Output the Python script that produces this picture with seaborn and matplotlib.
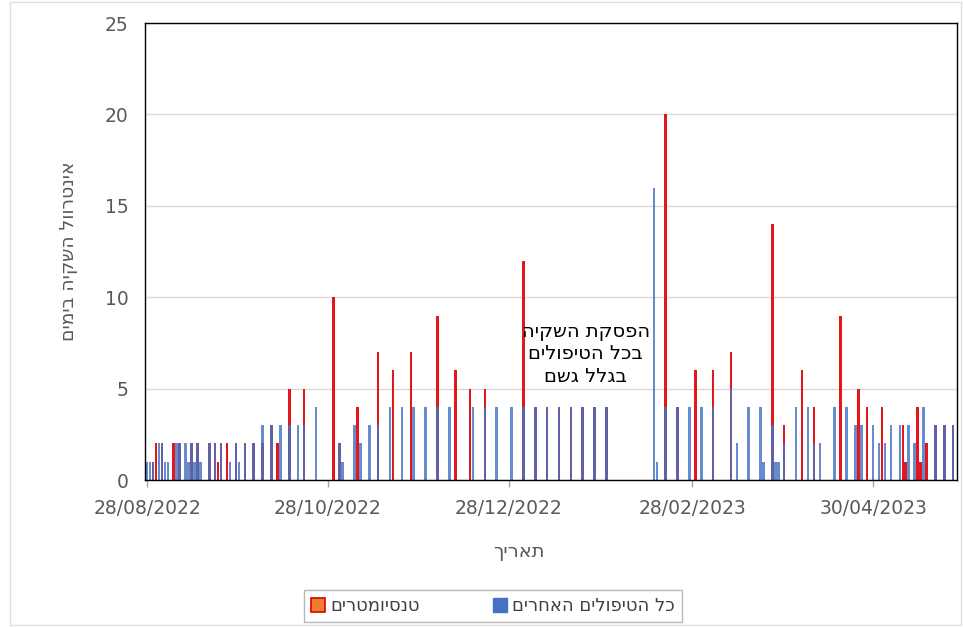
import numpy as np
import pandas as pd
import matplotlib
matplotlib.use("Agg")
import matplotlib.pyplot as plt
import matplotlib.dates as mdates
from matplotlib.patches import Patch, Rectangle
import seaborn as sns

# ============================
# Dados
# ============================
blue_dates = [
    "2022-08-28", "2022-08-29", "2022-08-30", "2022-09-01", "2022-09-02", "2022-09-03",
    "2022-09-04", "2022-09-07", "2022-09-08", "2022-09-10", "2022-09-11", "2022-09-12",
    "2022-09-13", "2022-09-14", "2022-09-15", "2022-09-18", "2022-09-20", "2022-09-22",
    "2022-09-25", "2022-09-27", "2022-09-28", "2022-09-30", "2022-10-03", "2022-10-06",
    "2022-10-09", "2022-10-12", "2022-10-15", "2022-10-18", "2022-10-20", "2022-10-24",
    "2022-11-01", "2022-11-02", "2022-11-06", "2022-11-08", "2022-11-11", "2022-11-14",
    "2022-11-18", "2022-11-22", "2022-11-26", "2022-11-30", "2022-12-04", "2022-12-08",
    "2022-12-16", "2022-12-20", "2022-12-24", "2022-12-29", "2023-01-02", "2023-01-06",
    "2023-01-10", "2023-01-14", "2023-01-18", "2023-01-22", "2023-01-26", "2023-01-30",
    "2023-02-15", "2023-02-16", "2023-02-19", "2023-02-23", "2023-02-27", "2023-03-03",
    "2023-03-07", "2023-03-13", "2023-03-15", "2023-03-19", "2023-03-23", "2023-03-24",
    "2023-03-27", "2023-03-28", "2023-03-29", "2023-03-31", "2023-04-04", "2023-04-08",
    "2023-04-10", "2023-04-12", "2023-04-17", "2023-04-21", "2023-04-24", "2023-04-26",
    "2023-04-30", "2023-05-02", "2023-05-04", "2023-05-06", "2023-05-09", "2023-05-12",
    "2023-05-14", "2023-05-17", "2023-05-21", "2023-05-24", "2023-05-27",
]
blue_values = [
    1, 1, 1, 2, 2, 1,
    1, 2, 2, 2, 1, 2,
    1, 2, 1, 2, 2, 2,
    1, 2, 1, 2, 2, 3,
    3, 3, 3, 3, 3, 4,
    2, 1, 3, 2, 3, 3,
    4, 4, 4, 4, 4, 4,
    4, 4, 4, 4, 4, 4,
    4, 4, 4, 4, 4, 4,
    16, 1, 4, 4, 4, 4,
    4, 5, 2, 4, 4, 1,
    3, 1, 1, 2, 4, 4,
    2, 2, 4, 4, 3, 3,
    3, 2, 2, 3, 3, 3,
    2, 4, 3, 3, 3,
]

red_dates = [
    "2022-08-30", "2022-08-31", "2022-09-02", "2022-09-06", "2022-09-08", "2022-09-12",
    "2022-09-14", "2022-09-18", "2022-09-20", "2022-09-21", "2022-09-22", "2022-09-24",
    "2022-09-27", "2022-09-30", "2022-10-03", "2022-10-06", "2022-10-09", "2022-10-11",
    "2022-10-15", "2022-10-20", "2022-10-30", "2022-11-01", "2022-11-07", "2022-11-14",
    "2022-11-19", "2022-11-25", "2022-12-04", "2022-12-10", "2022-12-15", "2022-12-20",
    "2023-01-02", "2023-01-06", "2023-01-10", "2023-01-14", "2023-01-18", "2023-01-22",
    "2023-01-26", "2023-01-30", "2023-02-19", "2023-02-23", "2023-03-01", "2023-03-07",
    "2023-03-13", "2023-03-27", "2023-03-31", "2023-04-06", "2023-04-10", "2023-04-19",
    "2023-04-25", "2023-04-28", "2023-05-03", "2023-05-10", "2023-05-11", "2023-05-15",
    "2023-05-16", "2023-05-18", "2023-05-21", "2023-05-24", "2023-05-27",
]
red_values = [
    1, 2, 2, 2, 2, 2,
    2, 2, 2, 1, 2, 2,
    2, 2, 2, 2, 3, 2,
    5, 5, 10, 2, 4, 7,
    6, 7, 9, 6, 5, 5,
    12, 4, 4, 4, 4, 4,
    4, 4, 20, 4, 6, 6,
    7, 14, 3, 6, 4, 9,
    5, 4, 4, 3, 1, 4,
    1, 2, 3, 3, 3,
]

tick_dates = ["2022-08-28", "2022-10-28", "2022-12-28", "2023-02-28", "2023-04-30"]

label_red = "טנסיומטרים"
label_blue = "כל הטיפולים האחרים"
x_title = "תאריך"
y_title = "אינטרוול השקיה בימים"
note = "הפסקת השקיה\nבכל הטיפולים\nבגלל גשם"

red = "#E3161B"
blue = "#4472C4"


def rtl(s):
    # matplotlib nao faz bidi: inverte cada linha para mostrar hebraico corretamente
    return "\n".join(line[::-1] for line in s.split("\n"))


df_blue = pd.DataFrame({"date": blue_dates, "value": blue_values})
df_red = pd.DataFrame({"date": red_dates, "value": red_values})
for d in (df_blue, df_red):
    d["x"] = mdates.date2num(pd.to_datetime(d["date"]).to_numpy())

# ============================
# Gráfico
# ============================
sns.set_theme(style="ticks")
plt.rcParams["font.family"] = ["DejaVu Sans"]

fig = plt.figure(figsize=(9.63, 6.27), dpi=100)
ax = fig.add_axes([0.1506, 0.2344, 0.8432, 0.7289])

sns.histplot(data=df_red, x="x", weights="value", discrete=True, shrink=0.85,
             color=red, alpha=1, linewidth=0, ax=ax)
sns.histplot(data=df_blue, x="x", weights="value", discrete=True, shrink=0.85,
             color=blue, alpha=0.82, linewidth=0, ax=ax)

start = mdates.date2num(pd.Timestamp("2022-08-28"))
ax.set_xlim(start - 0.67, start + 273.3)
ax.set_ylim(0, 25)
ax.set_yticks(np.arange(0, 26, 5))
ax.set_xticks(mdates.date2num(pd.to_datetime(tick_dates).to_numpy()))
ax.xaxis.set_major_formatter(mdates.DateFormatter("%d/%m/%Y"))

ax.set_axisbelow(True)
ax.grid(axis="y", color="#D9D9D9", linewidth=1)
for s in ax.spines.values():
    s.set_color("black")
    s.set_linewidth(1)

ax.tick_params(axis="y", length=0, pad=12, labelsize=13.5, labelcolor="#595959")
ax.tick_params(axis="x", length=5, width=1, color="#A6A6A6", pad=9,
               labelsize=13.5, labelcolor="#595959")

ax.set_xlabel(rtl(x_title), fontsize=14, color="#595959")
ax.xaxis.set_label_coords(0.4606, -0.1357)
ax.set_ylabel(rtl(y_title), fontsize=13.5, color="#595959")
ax.yaxis.set_label_coords(-0.0825, 0.5)

ax.text(mdates.date2num(pd.Timestamp("2023-01-23")), 6.9, rtl(note),
        ha="center", va="center", fontsize=14, color="black", linespacing=1.25)

handles = [
    Patch(facecolor="#ED7D31", edgecolor="#E00000", linewidth=1.2, label=rtl(label_red)),
    Patch(facecolor=blue, edgecolor=blue, label=rtl(label_blue)),
]
fig.legend(handles=handles, loc="center", bbox_to_anchor=(0.512, 0.0335), ncol=2,
           frameon=True, fancybox=False, edgecolor="#A6A6A6", fontsize=13,
           labelcolor="#404040", handlelength=0.8, handleheight=0.8,
           columnspacing=4.0, handletextpad=0.3, borderpad=0.4)

fig.patches.append(Rectangle((10 / 963, 2 / 627), 951 / 963, 623 / 627,
                             transform=fig.transFigure, fill=False,
                             edgecolor="#E0E0E0", linewidth=1))

fig.savefig("out.png", dpi=100)
